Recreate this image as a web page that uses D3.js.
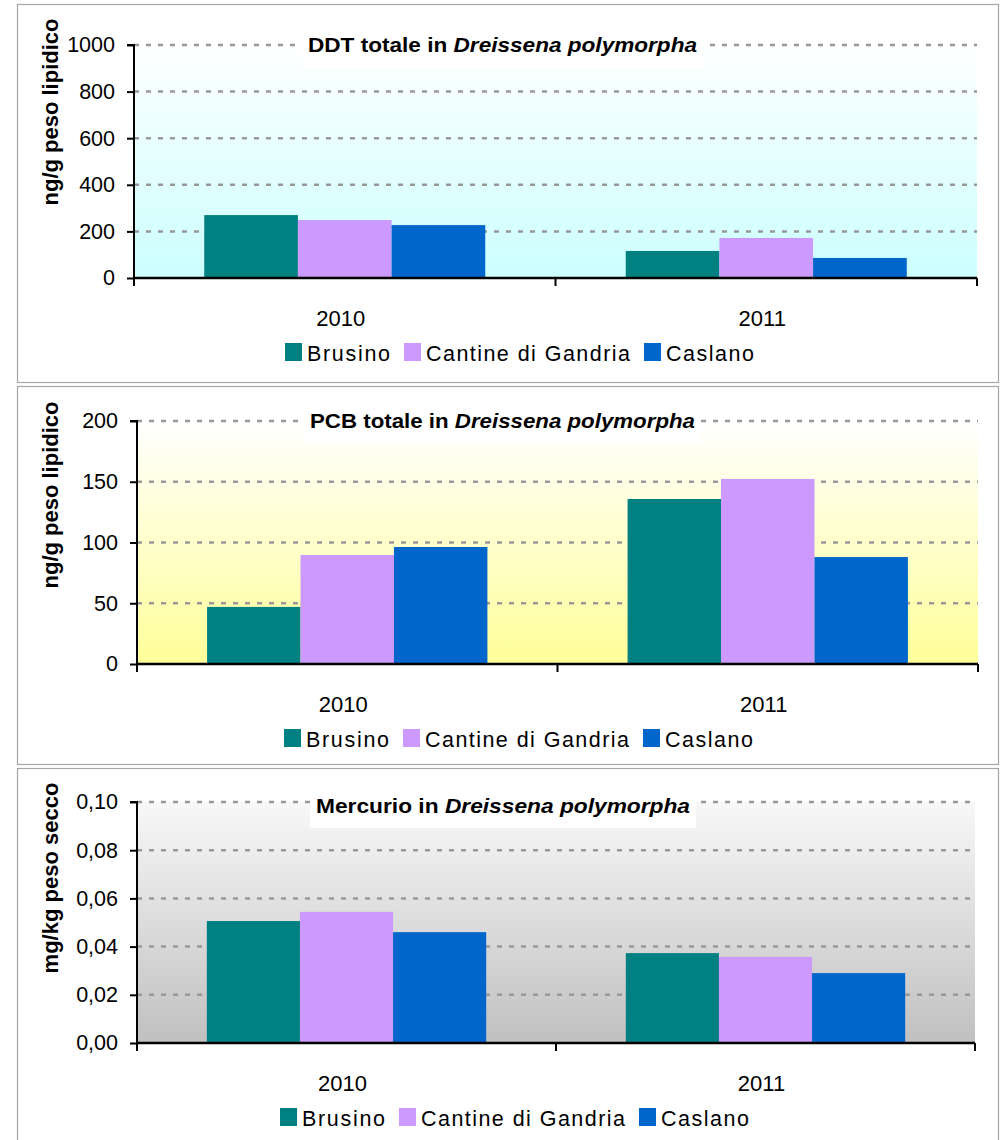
<!DOCTYPE html>
<html><head><meta charset="utf-8">
<script src="https://cdn.jsdelivr.net/npm/d3@7"></script>
<style>body{margin:0;background:#fff}svg{display:block}</style>
</head><body>
<svg id="chart" width="1002" height="1140"></svg>
<script>
// ---- data ----
const years = ["2010", "2011"];
const sites = ["Brusino", "Cantine di Gandria", "Caslano"];
const siteColors = ["#008080", "#cc99ff", "#0066cc"];
// values per year, in site order
const ddtValues = [[270, 249, 227], [116, 172, 86]];
const pcbValues = [[47, 89.7, 96.3], [135.8, 152.3, 88]];
const hgValues = [[0.0506, 0.0544, 0.046], [0.0373, 0.0357, 0.029]];
const ddtTicks = [0, 200, 400, 600, 800, 1000];
const pcbTicks = [0, 50, 100, 150, 200];
const hgTicks = [0, 0.02, 0.04, 0.06, 0.08, 0.10];
const hgTickLabels = ["0,00", "0,02", "0,04", "0,06", "0,08", "0,10"];
const titles = [
  ["DDT totale in ", "Dreissena polymorpha"],
  ["PCB totale in ", "Dreissena polymorpha"],
  ["Mercurio in ", "Dreissena polymorpha"]
];
const yTitles = ["ng/g peso lipidico", "ng/g peso lipidico", "mg/kg peso secco"];

const svg = d3.select("#chart");
const FONT = "'Liberation Sans', Arial, sans-serif";

const panels = [
  {box:[17,4,981,378], plot:{l:134,t:45,r:977,b:278}, values:ddtValues, ticks:ddtTicks, fmt:d=>String(d),
   grad:["#ffffff","#ccffff"], title:titles[0], ytitle:yTitles[0], yt:112, titleX:[308,697], legendX:285},
  {box:[17,386,981,378], plot:{l:137,t:421,r:978,b:664}, values:pcbValues, ticks:pcbTicks, fmt:d=>String(d),
   grad:["#ffffff","#ffff99"], title:titles[1], ytitle:yTitles[1], yt:495, titleX:[310,695], legendX:284},
  {box:[17,768,981,380], plot:{l:137,t:802,r:975,b:1043}, values:hgValues, ticks:hgTicks, fmt:(d,i)=>hgTickLabels[i],
   grad:["#f8f8f8","#c0c0c0"], title:titles[2], ytitle:yTitles[2], yt:878, titleX:[316,690], legendX:280}
];
const legendTextWidths = [83, 204, 88];

const defs = svg.append("defs");

panels.forEach((p, pi) => {
  const g = svg.append("g");
  const [bx, by, bw, bh] = p.box;
  g.append("rect").attr("x", bx + 0.5).attr("y", by + 0.5).attr("width", bw).attr("height", bh)
    .attr("fill", "#fff").attr("stroke", "#a6a6a6").attr("stroke-width", 1.2);

  const gid = "grad" + pi;
  const lg = defs.append("linearGradient").attr("id", gid).attr("x1", 0).attr("y1", 0).attr("x2", 0).attr("y2", 1);
  lg.append("stop").attr("offset", "0%").attr("stop-color", p.grad[0]);
  lg.append("stop").attr("offset", "100%").attr("stop-color", p.grad[1]);

  const P = p.plot;
  g.append("rect").attr("x", P.l).attr("y", P.t).attr("width", P.r - P.l).attr("height", P.b - P.t)
    .attr("fill", `url(#${gid})`);

  const y = d3.scaleLinear().domain([p.ticks[0], p.ticks[p.ticks.length - 1]]).range([P.b, P.t]);
  const x0 = d3.scaleBand().domain(years).range([P.l, P.r]).paddingInner(0).paddingOuter(0);
  // Excel gap width 150%: bar = band / 4.5
  const x1 = d3.scaleBand().domain(sites).range([0, x0.bandwidth()]).paddingInner(0).paddingOuter(0.75);

  // gridlines
  g.append("g").selectAll("line").data(p.ticks.slice(1)).join("line")
    .attr("x1", P.l).attr("x2", P.r).attr("y1", d => y(d)).attr("y2", d => y(d))
    .attr("stroke", "#999").attr("stroke-width", 2.5).attr("stroke-dasharray", "5,7");

  // title box
  const tx = p.title;
  const tcy = pi === 2 ? 806 : P.t;
  g.append("rect").attr("x", p.titleX[0] - 6).attr("y", tcy - 18).attr("width", p.titleX[1] - p.titleX[0] + 12)
    .attr("height", 40).attr("fill", "#fff");
  const tt = g.append("text").attr("x", p.titleX[0]).attr("y", tcy + 7)
    .attr("font-family", FONT).style("font-size", "19.5px").attr("font-weight", "bold").attr("fill", "#000")
    .attr("textLength", p.titleX[1] - p.titleX[0]).attr("lengthAdjust", "spacingAndGlyphs");
  tt.append("tspan").text(tx[0]);
  tt.append("tspan").attr("font-style", "italic").text(tx[1]);

  // bars
  years.forEach((yr, yi) => {
    g.append("g").selectAll("rect").data(p.values[yi]).join("rect")
      .attr("x", (d, i) => x0(yr) + x1(sites[i]))
      .attr("width", x1.bandwidth())
      .attr("y", d => y(d)).attr("height", d => y(p.ticks[0]) - y(d))
      .attr("fill", (d, i) => siteColors[i]);
  });

  // y axis
  const yAxis = d3.axisLeft(y).tickValues(p.ticks).tickSize(7).tickPadding(12).tickFormat(p.fmt);
  const ya = g.append("g").attr("transform", `translate(${P.l},0)`).call(yAxis);
  ya.attr("font-size", null).attr("font-family", null);
  ya.select(".domain").attr("stroke", "#000").attr("stroke-width", 2).attr("d", `M-7,${P.t}H0V${P.b}`);
  ya.selectAll(".tick line").attr("stroke", "#000").attr("stroke-width", 2);
  ya.selectAll(".tick text").style("font-family", FONT).style("font-size", "21.5px").attr("fill", "#000");

  // x axis
  const xa = g.append("g").attr("transform", `translate(0,${P.b})`);
  xa.append("line").attr("x1", P.l).attr("x2", P.r).attr("y1", 0).attr("y2", 0)
    .attr("stroke", "#000").attr("stroke-width", 2.5);
  const bounds = [P.l, x0("2011"), P.r];
  xa.selectAll("line.tk").data(bounds).join("line").attr("class", "tk")
    .attr("x1", d => d).attr("x2", d => d).attr("y1", 0).attr("y2", 8)
    .attr("stroke", "#000").attr("stroke-width", 2);
  xa.selectAll("text").data(years).join("text")
    .attr("x", d => x0(d) + x0.bandwidth() / 2 - 4).attr("y", 48)
    .attr("text-anchor", "middle").style("font-family", FONT).style("font-size", "22px").attr("fill", "#000")
    .text(d => d);

  // y title
  g.append("text").attr("transform", `translate(58,${p.yt}) rotate(-90)`)
    .attr("text-anchor", "middle").style("font-family", FONT).style("font-size", "22px").attr("font-weight", "bold")
    .text(p.ytitle);

  // legend
  const ly = P.b + 83;
  let lx = p.legendX;
  const lgd = g.append("g");
  sites.forEach((s, i) => {
    lgd.append("rect").attr("x", lx).attr("y", ly - 18).attr("width", 17).attr("height", 18).attr("fill", siteColors[i]);
    lgd.append("text").attr("x", lx + 22).attr("y", ly)
      .style("font-family", FONT).style("font-size", "21.5px").attr("fill", "#000")
      .attr("textLength", legendTextWidths[i]).attr("lengthAdjust", "spacing").text(s);
    lx += 22 + legendTextWidths[i] + 14;
  });
});
</script>
</body></html>
